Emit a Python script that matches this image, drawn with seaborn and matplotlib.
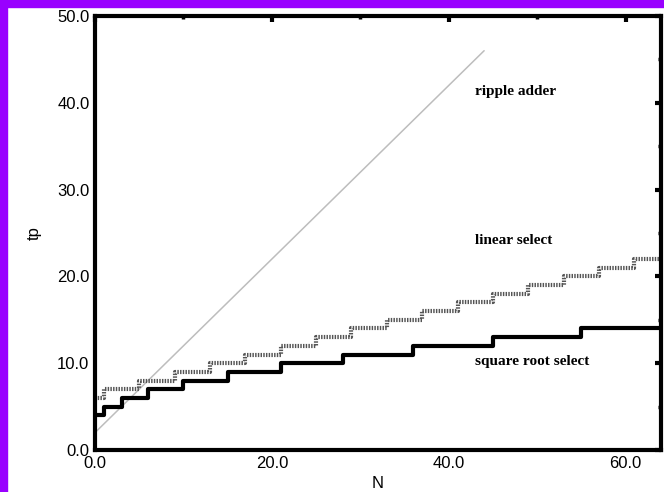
import numpy as np
import pandas as pd
import matplotlib
matplotlib.use("Agg")
import matplotlib.pyplot as plt
import seaborn as sns
from matplotlib.patches import Rectangle
from matplotlib.ticker import MultipleLocator, FormatStrFormatter

# datos
ripple_n = [0, 44]
ripple_tp = [2, 46]

linear_n = [0, 1, 5, 9, 13, 17, 21, 25, 29, 33, 37, 41, 45, 49, 53, 57, 61, 64]
linear_tp = [6, 7, 8, 9, 10, 11, 12, 13, 14, 15, 16, 17, 18, 19, 20, 21, 22, 22]

sqrt_n = [0, 1, 3, 6, 10, 15, 21, 28, 36, 45, 55, 64]
sqrt_tp = [4, 5, 6, 7, 8, 9, 10, 11, 12, 13, 14, 14]

etiquetas = ["ripple adder", "linear select", "square root select"]
etiq_x = [43, 43, 43]
etiq_y = [41.3, 24.1, 10.2]

sns.set_theme(style="white")
plt.rcParams["font.family"] = ["Liberation Sans", "DejaVu Sans"]
plt.rcParams["text.color"] = "black"
plt.rcParams["axes.labelcolor"] = "black"
plt.rcParams["xtick.color"] = "black"
plt.rcParams["ytick.color"] = "black"

fig = plt.figure(figsize=(6.64, 4.92), dpi=100)
ax = fig.add_axes([95 / 664, 1 - 450 / 492, 566 / 664, 434 / 492])

# borde morado
fig.patches.append(Rectangle((0, 1 - 7 / 492), 1, 7 / 492, transform=fig.transFigure,
                             color="#9900ff", zorder=0))
fig.patches.append(Rectangle((0, 0), 7 / 664, 1, transform=fig.transFigure,
                             color="#9900ff", zorder=0))

df_r = pd.DataFrame({"N": ripple_n, "tp": ripple_tp})
sns.lineplot(data=df_r, x="N", y="tp", ax=ax, color="#bdbdbd", linewidth=1.1)

df_l = pd.DataFrame({"N": linear_n, "tp": linear_tp})
sns.lineplot(data=df_l, x="N", y="tp", ax=ax, color="#555555", linewidth=3,
             drawstyle="steps-post", linestyle=(0, (0.35, 0.3)))

df_s = pd.DataFrame({"N": sqrt_n, "tp": sqrt_tp})
sns.lineplot(data=df_s, x="N", y="tp", ax=ax, color="black", linewidth=3,
             drawstyle="steps-post")

for t, x, y in zip(etiquetas, etiq_x, etiq_y):
    ax.text(x, y, t, family="Liberation Serif", fontweight="bold", fontsize=11,
            va="center", ha="left")

ax.set_xlim(0, 64)
ax.set_ylim(0, 50)
ax.xaxis.set_major_locator(MultipleLocator(20))
ax.xaxis.set_minor_locator(MultipleLocator(10))
ax.yaxis.set_major_locator(MultipleLocator(10))
ax.yaxis.set_minor_locator(MultipleLocator(5))
ax.xaxis.set_major_formatter(FormatStrFormatter("%.1f"))
ax.yaxis.set_major_formatter(FormatStrFormatter("%.1f"))
ax.tick_params(which="major", direction="in", length=4, width=3, labelsize=12,
               top=True, right=True, pad=4)
ax.tick_params(which="minor", direction="in", length=2.5, width=2.5,
               top=True, right=True)
for s in ax.spines.values():
    s.set_linewidth(3)
    s.set_color("black")
ax.set_xlabel("N", fontsize=12, labelpad=4)
ax.set_ylabel("tp", fontsize=12, labelpad=11)

fig.savefig("out.png", dpi=100)
